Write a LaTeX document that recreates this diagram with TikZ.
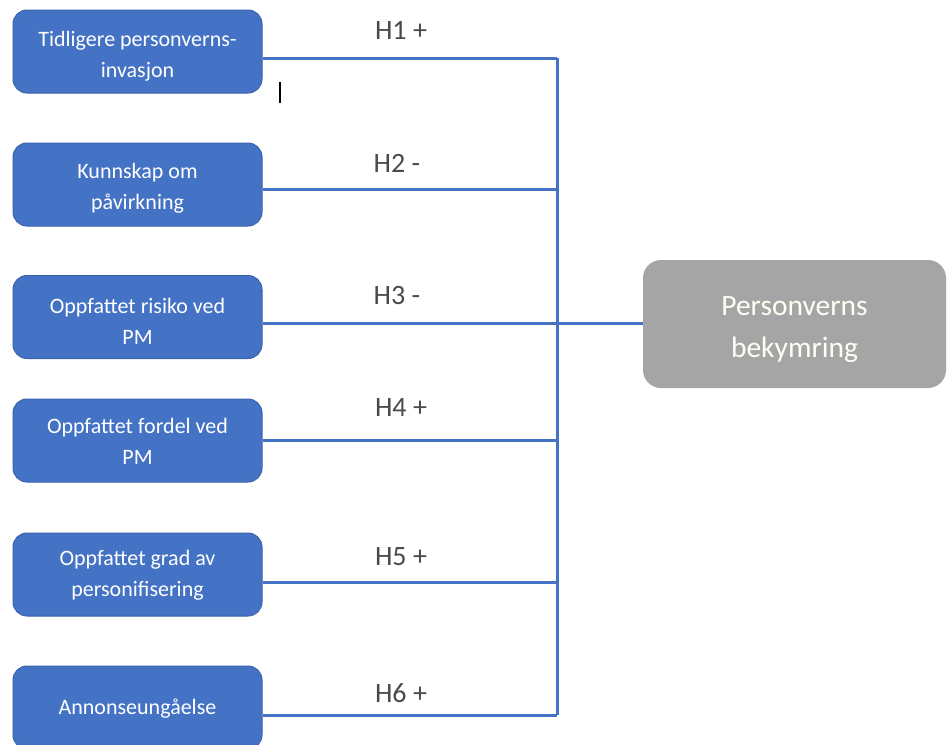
\documentclass[tikz,border=0pt]{standalone}
\usepackage{fontspec}
\setmainfont{Carlito}
\definecolor{boxblue}{HTML}{4472C4}
\definecolor{boxborder}{HTML}{3A63AD}
\definecolor{linkblue}{HTML}{4472C4}
\definecolor{boxgray}{HTML}{A5A5A5}
\definecolor{labelgray}{HTML}{4A4A4A}
\tikzset{
  factor/.style={rectangle, rounded corners=14pt, fill=boxblue, draw=boxborder, line width=1pt,
    minimum width=249pt, minimum height=83pt, inner sep=0pt},
  factortext/.style={inner sep=0pt, text=white, align=center,
    font=\fontsize{22}{31}\selectfont},
  outcome/.style={rectangle, rounded corners=18pt, fill=boxgray, draw=none,
    minimum width=303pt, minimum height=128pt, inner sep=0pt},
  outcometext/.style={inner sep=0pt, text=white!96!yellow, align=center,
    font=\fontsize{29.5}{42}\selectfont},
  hyp/.style={text=labelgray, font=\fontsize{28}{30}\selectfont, inner sep=0pt},
  link/.style={draw=linkblue, line width=3pt},
}
\begin{document}
\begin{tikzpicture}[x=1pt,y=-1pt]
\useasboundingbox (0,0) rectangle (947,744);
\fill[white] (0,0) rectangle (947,744);
\clip (0,0) rectangle (947,744);
% factor boxes
\node[factor] (b1) at (137.5,51.5) {};
\node[factor] (b2) at (137.5,184.5) {};
\node[factor] (b3) at (137.5,317) {};
\node[factor] (b4) at (137.5,440.5) {};
\node[factor] (b5) at (137.5,574.5) {};
\node[factor] (b6) at (137.5,707.5) {};
\node[factortext] (t1) at ([yshift=-5pt]b1.center) {Tidligere personverns-\\invasjon};
\node[factortext] (t2) at ([yshift=-4pt]b2.center) {Kunnskap om\\påvirkning};
\node[factortext] (t3) at ([yshift=-4pt]b3.center) {Oppfattet risiko ved\\PM};
\node[factortext] (t4) at ([yshift=-1pt]b4.center) {Oppfattet fordel ved\\PM};
\node[factortext] (t5) at ([yshift=-1pt]b5.center) {Oppfattet grad av\\personifisering};
\node[factortext] (t6) at ([yshift=-1pt]b6.center) {Annonseungåelse};
% outcome
\node[outcome] (out) at (794.5,324) {};
\node[outcometext] (outt) at ([yshift=-6pt]out.center) {Personverns\\bekymring};
% bus junctions
\coordinate (j1) at (557,58);
\coordinate (j2) at (557,189);
\coordinate (j3) at (557,323);
\coordinate (j4) at (557,440);
\coordinate (j5) at (557,582);
\coordinate (j6) at (557,715);
% connectors
\draw[link] (b1.east |- j1) -- (j1);
\draw[link] (b2.east |- j2) -- (j2);
\draw[link] (b3.east |- j3) -- (j3);
\draw[link] (b4.east |- j4) -- (j4);
\draw[link] (b5.east |- j5) -- (j5);
\draw[link] (b6.east |- j6) -- (j6);
\draw[link, line join=miter] (j1) -- (j6);
\draw[link] (j3) -- (out.west |- j3);
% hypothesis labels
\node[hyp] (h1) at (401,30) {H1 +};
\node[hyp] (h2) at (397,163) {H2 -};
\node[hyp] (h3) at (397,296) {H3 -};
\node[hyp] (h4) at (401,408) {H4 +};
\node[hyp] (h5) at (401,557) {H5 +};
\node[hyp] (h6) at (401,693) {H6 +};
% text cursor mark
\coordinate (c1) at (280,82);
\coordinate (c2) at (280,103);
\draw[black, line width=1.4pt] (c1) -- (c2);
\end{tikzpicture}
\end{document}
